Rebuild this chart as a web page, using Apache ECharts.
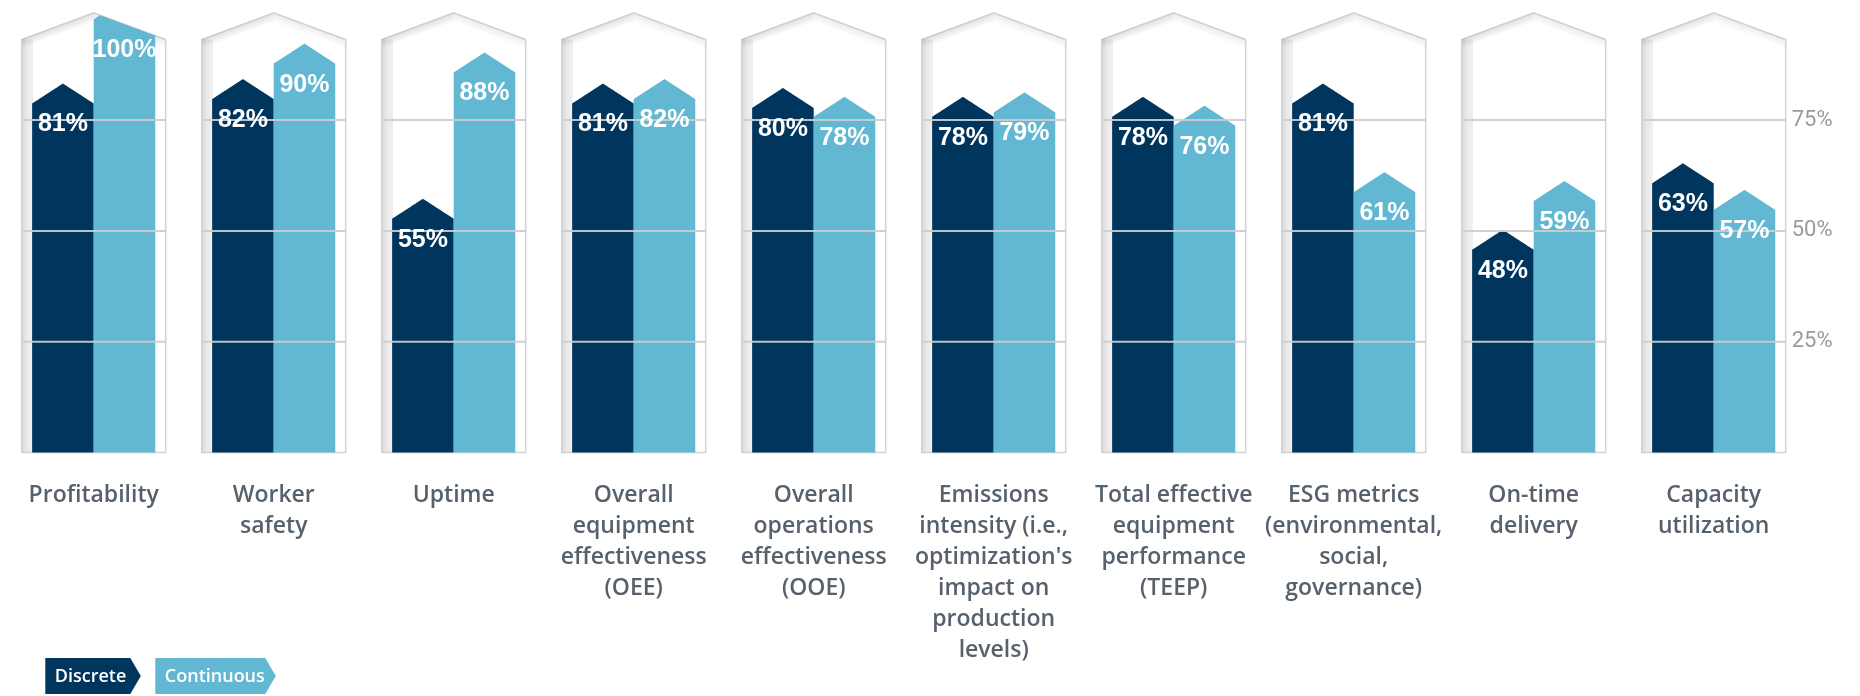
<!DOCTYPE html>
<html>
<head>
<meta charset="utf-8">
<script src="https://cdn.jsdelivr.net/npm/echarts@6/dist/echarts.min.js"></script>
<style>
  html, body { margin: 0; padding: 0; background: #ffffff; }
  #chart { width: 1860px; height: 696px; }
</style>
</head>
<body>
<div id="chart"></div>
<script>
// ---- data ----
const categories = [
  'Profitability',
  'Worker\nsafety',
  'Uptime',
  'Overall\nequipment\neffectiveness\n(OEE)',
  'Overall\noperations\neffectiveness\n(OOE)',
  'Emissions\nintensity (i.e.,\noptimization\'s\nimpact on\nproduction\nlevels)',
  'Total effective\nequipment\nperformance\n(TEEP)',
  'ESG metrics\n(environmental,\nsocial,\ngovernance)',
  'On-time\ndelivery',
  'Capacity\nutilization'
];
const discrete   = [81, 82, 55, 81, 80, 78, 78, 81, 48, 63];
const continuous = [100, 90, 88, 82, 78, 79, 76, 61, 59, 57];
const seriesNames = ['Discrete', 'Continuous'];
const yTicks = [25, 50, 75];

// ---- look ----
const DARK = '#00355e';
const LIGHT = '#62b8d2';
const HOUSE_WALL = 93.2;   // axis value where the frame's walls end
const HOUSE_PEAK = 99.2;   // axis value of the frame's roof ridge
const HOUSE_HALF = 0.4;    // half frame width, fraction of a category band
const BAR_W = 0.342;       // bar width, fraction of a category band
const ARROW = 10;          // half height of the arrow head, px

function frame(api, idx) {
  const band = api.size([1, 0])[0];
  const base = api.coord([idx, 0]);
  const half = band * HOUSE_HALF;
  return {
    band: band,
    cx: base[0],
    bottom: base[1],
    wall: api.coord([idx, HOUSE_WALL])[1],
    peak: api.coord([idx, HOUSE_PEAK])[1],
    half: half,
    left: base[0] - half,
    right: base[0] + half
  };
}
function roofY(h, x) {
  return h.peak + Math.abs(x - h.cx) / h.half * (h.wall - h.peak);
}

// pale house-shaped frame behind each category
function renderFrame(params, api) {
  const i = api.value(0);
  const h = frame(api, i);
  const dx = h.half, dy = h.wall - h.peak;
  const len = Math.sqrt(dx * dx + dy * dy);
  const nx = dy / len, ny = dx / len;
  const lm = [(h.left + h.cx) / 2, (h.wall + h.peak) / 2];
  const rm = [(h.right + h.cx) / 2, (h.wall + h.peak) / 2];
  const shade = (a) => [{ offset: 0, color: 'rgba(0,0,0,' + a + ')' }, { offset: 1, color: 'rgba(0,0,0,0)' }];
  return {
    type: 'group',
    children: [
      {
        type: 'polygon',
        shape: { points: [[h.left, h.bottom], [h.left, h.wall], [h.cx, h.peak], [h.right, h.wall], [h.right, h.bottom]] },
        style: { fill: '#ffffff', stroke: '#d3d3d3', lineWidth: 1.5 }
      },
      {
        type: 'rect',
        shape: { x: h.left + 0.75, y: h.wall, width: 10.5, height: h.bottom - h.wall - 0.75 },
        style: {
          fill: new echarts.graphic.LinearGradient(0, 0, 1, 0, [
            { offset: 0, color: 'rgba(0,0,0,0.15)' },
            { offset: 0.35, color: 'rgba(0,0,0,0.09)' },
            { offset: 1, color: 'rgba(0,0,0,0.06)' }
          ])
        }
      },
      {
        type: 'polygon',
        shape: { points: [[h.left + 0.75, h.wall], [h.cx, h.peak + 0.75], [h.cx, h.peak + 10], [h.left + 0.75, h.wall + 10]] },
        style: { fill: new echarts.graphic.LinearGradient(lm[0], lm[1], lm[0] + nx * 9, lm[1] + ny * 9, shade(0.12), true) }
      },
      {
        type: 'polygon',
        shape: { points: [[h.cx, h.peak + 0.75], [h.right - 0.75, h.wall], [h.right - 0.75, h.wall + 10], [h.cx, h.peak + 10]] },
        style: { fill: new echarts.graphic.LinearGradient(rm[0], rm[1], rm[0] - nx * 9, rm[1] + ny * 9, shade(0.08), true) }
      }
    ]
  };
}

// arrow-topped bar, trimmed by the frame's roof
function barRenderer(side, color) {
  return function (params, api) {
    const i = api.value(0), v = api.value(1);
    const h = frame(api, i);
    const w = h.band * BAR_W;
    const x0 = side < 0 ? h.cx - w : h.cx;
    const x1 = x0 + w;
    const mid = (x0 + x1) / 2;
    const vy = api.coord([i, v])[1];
    const shoulder = vy + ARROW, tip = vy - ARROW;
    const pts = [[x0, h.bottom]];
    const steps = Math.ceil(w);
    for (let k = 0; k <= steps; k++) {
      const x = x0 + (x1 - x0) * k / steps;
      const ay = tip + Math.abs(x - mid) / (w / 2) * (shoulder - tip);
      pts.push([x, Math.max(ay, roofY(h, x))]);
    }
    pts.push([x1, h.bottom]);
    return { type: 'polygon', shape: { points: pts }, style: { fill: color } };
  };
}

// grid lines, only inside each frame
function renderGridLines(params, api) {
  const i = api.value(0);
  const h = frame(api, i);
  return {
    type: 'group',
    children: yTicks.map(t => {
      const y = api.coord([i, t])[1];
      return {
        type: 'line',
        shape: { x1: h.left + 0.75, y1: y, x2: h.right, y2: y },
        style: { stroke: 'rgba(205,205,205,0.92)', lineWidth: 2 }
      };
    })
  };
}

// white percentage labels inside the bars
function renderValueLabels(params, api) {
  const i = api.value(0);
  const h = frame(api, i);
  const w = h.band * BAR_W;
  const vals = [api.value(1), api.value(2)];
  return {
    type: 'group',
    children: vals.map((v, k) => {
      const x = k === 0 ? h.cx - w / 2 : h.cx + w / 2;
      const y = Math.max(api.coord([i, v])[1] + ARROW + 21, h.wall + 11);
      return {
        type: 'text',
        x: x, y: y,
        style: {
          text: v + '%',
          fill: '#ffffff',
          fontFamily: '"Liberation Sans", Arial, sans-serif',
          fontWeight: 'bold',
          fontSize: 25,
          align: 'center',
          verticalAlign: 'middle'
        }
      };
    })
  };
}

const idxData = categories.map((c, i) => [i]);

function legendItem(x, name, color, width) {
  return {
    type: 'group',
    x: x, y: 658,
    children: [
      {
        type: 'polygon',
        shape: { points: [[0, 0], [width - 10.5, 0], [width, 18], [width - 10.5, 36], [0, 36]] },
        style: { fill: color }
      },
      {
        type: 'text',
        x: 9.5, y: 18.5,
        style: { text: name, fill: '#ffffff', fontFamily: 'Open Sans', fontWeight: 600, fontSize: 18, verticalAlign: 'middle', align: 'left' }
      }
    ]
  };
}

const chart = echarts.init(document.getElementById('chart'), null, { renderer: 'canvas' });
chart.setOption({
  animation: false,
  backgroundColor: '#ffffff',
  grid: { left: 3.7, right: 56.3, top: 9.3, bottom: 243.5, containLabel: false },
  xAxis: {
    type: 'category',
    data: categories,
    axisLine: { show: false },
    axisTick: { show: false },
    splitLine: { show: false },
    axisLabel: {
      interval: 0,
      margin: 27.5,
      color: '#56616c',
      fontFamily: 'Open Sans',
      fontWeight: 600,
      fontSize: 23,
      lineHeight: 31,
      align: 'center'
    }
  },
  yAxis: {
    type: 'value',
    position: 'right',
    min: 0,
    max: 100,
    interval: 25,
    offset: -12,
    axisLine: { show: false },
    axisTick: { show: false },
    splitLine: { show: false },
    axisLabel: {
      margin: 0,
      color: '#9a9a9a',
      fontFamily: 'Roboto',
      fontSize: 22,
      formatter: v => (yTicks.indexOf(v) >= 0 ? v + '%' : '')
    }
  },
  graphic: [
    legendItem(45.3, seriesNames[0], DARK, 95.5),
    legendItem(155.3, seriesNames[1], LIGHT, 120.5)
  ],
  series: [
    { type: 'custom', name: 'frames', z: 1, silent: true, data: idxData, renderItem: renderFrame, encode: { x: 0 } },
    { type: 'custom', name: seriesNames[0], z: 2, data: discrete.map((v, i) => [i, v]), renderItem: barRenderer(-1, DARK), encode: { x: 0, y: 1 } },
    { type: 'custom', name: seriesNames[1], z: 2, data: continuous.map((v, i) => [i, v]), renderItem: barRenderer(1, LIGHT), encode: { x: 0, y: 1 } },
    { type: 'custom', name: 'grid lines', z: 3, silent: true, data: idxData, renderItem: renderGridLines, encode: { x: 0 } },
    { type: 'custom', name: 'values', z: 4, silent: true, data: discrete.map((v, i) => [i, v, continuous[i]]), renderItem: renderValueLabels, encode: { x: 0 } }
  ]
});
</script>
</body>
</html>
